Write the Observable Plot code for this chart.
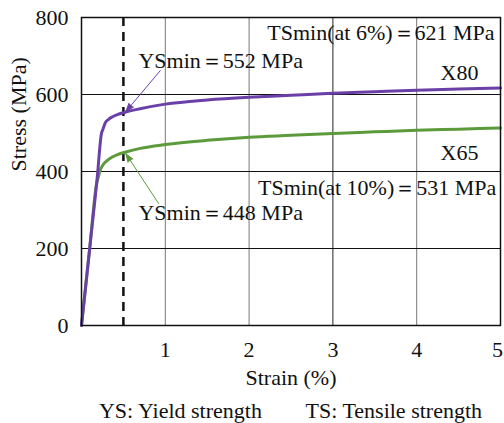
<!DOCTYPE html>
<html>
<head>
<meta charset="utf-8">
<script src="https://cdn.jsdelivr.net/npm/d3@7"></script>
<script src="https://cdn.jsdelivr.net/npm/@observablehq/plot@0.6"></script>
</head>
<body style="margin:0;background:#fff">
<div id="chart"></div>
<div id="caption" style="width:504px;box-sizing:border-box;padding-left:81px;padding-right:4px;font-family:'Liberation Serif',serif;font-size:22px;line-height:25px;color:#111;text-align:center;white-space:pre"></div>
<script>
// Data
const x80Strain = [0, 0.1, 0.19, 0.235, 0.26, 0.283, 0.32, 0.36, 0.42, 0.52, 0.7, 1, 1.5, 2, 2.5, 3, 3.5, 4, 4.5, 5];
const x80Stress = [0, 205, 390, 495, 512, 526, 535, 541, 547, 554, 563, 575, 586, 593, 598, 603, 607, 611, 614, 617];
const x65Strain = [0, 0.1, 0.18, 0.2, 0.223, 0.25, 0.283, 0.32, 0.362, 0.43, 0.52, 0.7, 1, 1.5, 2, 2.5, 3, 3.5, 4, 4.5, 5];
const x65Stress = [0, 205, 368, 385, 403, 415, 424, 431, 437, 444, 450, 460, 470, 481, 489, 494, 499, 503, 507, 510, 513];
const xTicks = [1, 2, 3, 4];
const xTickLast = [5];
const yTicks = [0, 200, 400, 600, 800];
const gridXGray = [1, 2, 4];
const gridXDark = [3];
const gridY = [200, 400, 600];
const dashedStrain = [0.5];
const seriesLabels = [{text: "X80", x: 4.51, y: 655}, {text: "X65", x: 4.51, y: 449}];
const ysNotes = [{text: "YSmin＝552 MPa", x: 0.68, y: 688}, {text: "YSmin＝448 MPa", x: 0.68, y: 293}];
const tsNotes = [{text: "TSmin(at 6%)＝621 MPa", x: 4.93, y: 761}, {text: "TSmin(at 10%)＝531 MPa", x: 4.95, y: 356}];
const arrowX80 = [{x1: 0.94, y1: 662, x2: 0.53, y2: 556}];
const arrowX65 = [{x1: 0.92, y1: 317, x2: 0.53, y2: 446}];
const captionParts = ["YS: Yield strength", "TS: Tensile strength"];

const purple = "#6a40a8";
const green = "#5c9a3c";
const font = "Liberation Serif, serif";

const x80 = x80Strain.map((s, i) => ({strain: s, stress: x80Stress[i]}));
const x65 = x65Strain.map((s, i) => ({strain: s, stress: x65Stress[i]}));

const chart = Plot.plot({
  width: 504,
  height: 398,
  marginLeft: 81,
  marginRight: 4,
  marginTop: 17,
  marginBottom: 73,
  style: "font-family: 'Liberation Serif', serif; font-size: 22px; color: #111; background: #fff; overflow: visible;",
  x: {domain: [0, 5]},
  y: {domain: [0, 800]},
  marks: [
    Plot.ruleX(gridXGray, {stroke: "#777", strokeWidth: 1}),
    Plot.ruleX(gridXDark, {stroke: "#222", strokeWidth: 1}),
    Plot.ruleY(gridY, {stroke: "#111", strokeWidth: 1}),
    Plot.ruleX(dashedStrain, {stroke: "#111", strokeWidth: 2.5, strokeDasharray: "9,6"}),
    Plot.line(x65, {x: "strain", y: "stress", stroke: green, strokeWidth: 3, curve: "monotone-x"}),
    Plot.line(x80, {x: "strain", y: "stress", stroke: purple, strokeWidth: 3, curve: "monotone-x"}),
    Plot.arrow(arrowX80, {x1: "x1", y1: "y1", x2: "x2", y2: "y2", bend: 0, stroke: purple, fill: purple, strokeWidth: 1, headLength: 13, headAngle: 40}),
    Plot.arrow(arrowX65, {x1: "x1", y1: "y1", x2: "x2", y2: "y2", bend: 0, stroke: green, fill: green, strokeWidth: 1, headLength: 13, headAngle: 40}),
    Plot.frame({stroke: "#111", strokeWidth: 1.5}),
    Plot.axisX({ticks: xTicks, tickFormat: d => String(d), tickSize: 0, tickPadding: 16, label: null, fontSize: 22, fontFamily: font}),
    Plot.axisX({ticks: xTickLast, tickFormat: d => String(d), tickSize: 0, tickPadding: 16, label: null, fontSize: 22, fontFamily: font, dx: -3}),
    Plot.axisY({ticks: yTicks, tickFormat: d => String(d), tickSize: 0, tickPadding: 13, label: null, fontSize: 22, fontFamily: font}),
    Plot.text(["Strain (%)"], {frameAnchor: "bottom", dy: 59, fontSize: 22, fontFamily: font}),
    Plot.text(["Stress (MPa)"], {frameAnchor: "left", dx: -63, rotate: -90, fontSize: 22, fontFamily: font}),
    Plot.text(seriesLabels, {x: "x", y: "y", text: "text", fontSize: 22, textAnchor: "middle", fontFamily: font}),
    Plot.text(ysNotes, {x: "x", y: "y", text: "text", fontSize: 22, textAnchor: "start", fontFamily: font}),
    Plot.text(tsNotes, {x: "x", y: "y", text: "text", fontSize: 22, textAnchor: "end", fontFamily: font})
  ]
});
document.getElementById("chart").appendChild(chart);
document.getElementById("caption").textContent = captionParts.join("        ");
</script>
</body>
</html>
